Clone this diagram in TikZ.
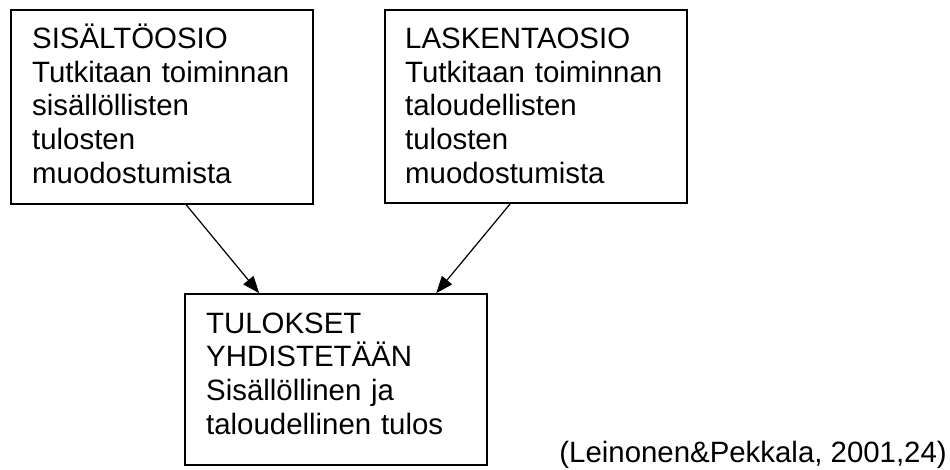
\documentclass[tikz,border=0pt]{standalone}
\usepackage{fontspec}
\setmainfont{Liberation Sans}
\usetikzlibrary{arrows.meta}
\begin{document}
\begin{tikzpicture}[x=1pt,y=-1pt,
  box/.style={draw,line width=1.6pt,minimum width=302pt,inner sep=0pt},
  txt/.style={anchor=base west,inner sep=0pt,text width=270pt,align=left,
    font=\fontsize{29.4}{33.8}\selectfont},
  conn/.style={line width=1.2pt,-{Triangle[length=17pt,width=13pt]}}]
\useasboundingbox (0,0) rectangle (950,469);
\node[box,minimum height=194pt] (b1) at (162,107) {};
\node[box,minimum height=193pt] (b2) at (536,106.5) {};
\node[box,minimum height=171pt] (b3) at (336,379.5) {};
\node[txt] (t1) at (32,48.3) {SISÄLTÖOSIO\\Tutkitaan toiminnan\\sisällöllisten\\tulosten\\muodostumista};
\node[txt] (t2) at (405,48.3) {LASKENTAOSIO\\Tutkitaan toiminnan\\taloudellisten\\tulosten\\muodostumista};
\node[txt] (t3) at (206,333) {TULOKSET\\YHDISTETÄÄN\\Sisällöllinen ja\\taloudellinen tulos};
\node[anchor=base east,inner sep=0pt,font=\fontsize{29.4}{33.8}\selectfont] (cite) at (947,462) {(Leinonen\&Pekkala, 2001,24)};
\draw[conn] ([xshift=176pt]b1.south west) -- ([xshift=75pt]b3.north west);
\draw[conn] ([xshift=126pt]b2.south west) -- ([xshift=252pt]b3.north west);
\end{tikzpicture}
\end{document}
